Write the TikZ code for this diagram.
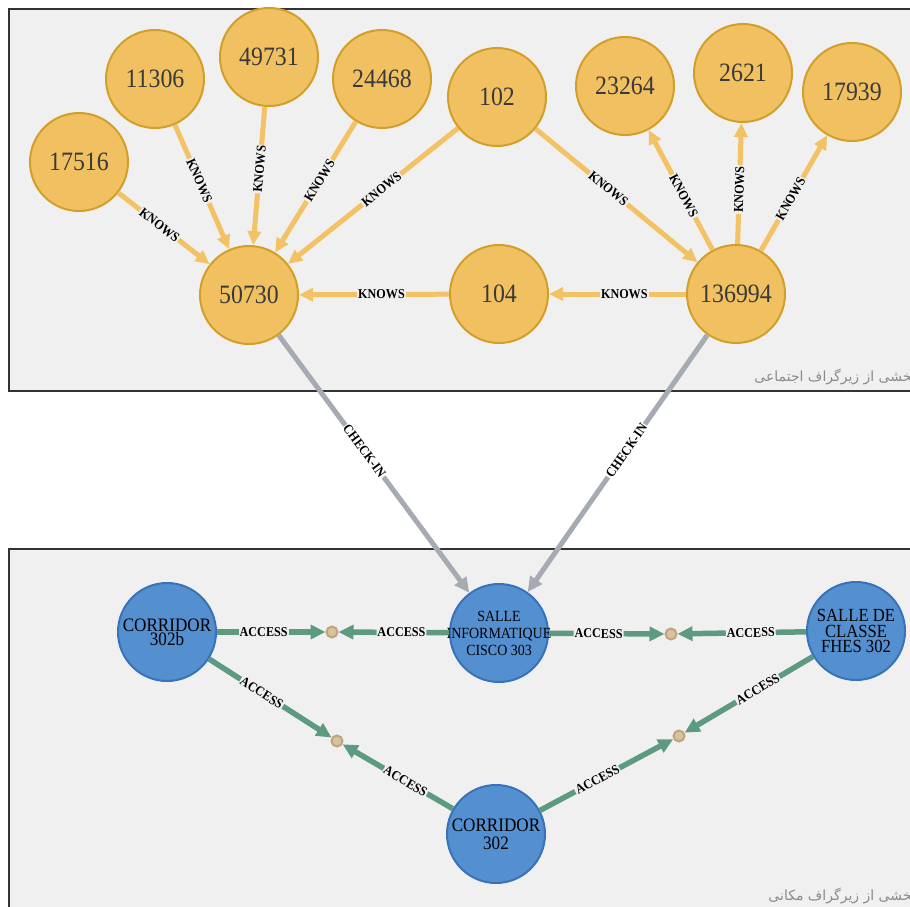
\documentclass[tikz,border=0pt]{standalone}
\usepackage{fontspec}
\usetikzlibrary{arrows.meta}
\TeXXeTstate=1
\newfontfamily\nodefont[FakeStretch=0.9]{Liberation Serif}
\newfontfamily\arabicfont[Script=Arabic]{DejaVu Sans}
\definecolor{bg}{HTML}{F0F0F0}
\definecolor{framec}{HTML}{333333}
\definecolor{pfill}{HTML}{F1C060}
\definecolor{pdraw}{HTML}{D2A02A}
\definecolor{ptext}{HTML}{3A3A3A}
\definecolor{kcol}{HTML}{F3C264}
\definecolor{lfill}{HTML}{548FD0}
\definecolor{ldraw}{HTML}{3A72B8}
\definecolor{acol}{HTML}{5E9A80}
\definecolor{ccol}{HTML}{A6AAB3}
\definecolor{hfill}{HTML}{D5C3A2}
\definecolor{hdraw}{HTML}{C2A47A}
\definecolor{capcol}{HTML}{8A8A8A}
\tikzset{
  frame/.style={draw=framec, line width=1.5pt, fill=bg},
  person/.style={circle, minimum size=98pt, inner sep=0pt, fill=pfill, draw=pdraw, line width=2pt,
    text=ptext, font=\nodefont\fontsize{26.5}{26.5}\selectfont},
  place/.style={circle, minimum size=98pt, inner sep=-20pt, fill=lfill, draw=ldraw, line width=2pt,
    text=black, align=center},
  hub/.style={circle, minimum size=11pt, inner sep=0pt, fill=hfill, draw=hdraw, line width=2pt},
  knows/.style={draw=kcol, line width=5pt, -{Triangle[length=14pt,width=13pt]}},
  access/.style={draw=acol, line width=5.5pt, -{Triangle[length=15pt,width=14pt]}},
  checkin/.style={draw=ccol, line width=5pt, -{Triangle[length=15pt,width=14pt]}},
  elabel/.style={font=\nodefont\bfseries\fontsize{13.5}{13.5}\selectfont, text=black,
    fill=bg, inner sep=1pt, sloped, pos=0.45},
  caption/.style={font=\arabicfont\fontsize{14}{14}\selectfont, text=capcol, anchor=base east, inner sep=0pt}
}
\begin{document}
\begin{tikzpicture}[x=1pt,y=-1pt]
\useasboundingbox (0,0) rectangle (910,907);
\clip (0,0) rectangle (910,907);
\fill[white] (0,0) rectangle (910,907);
% frames
\draw[frame] (9,9) rectangle (925,391);
\draw[frame] (9,549) rectangle (925,930);
\node[caption] (cap1) at (916,381) {\beginR بخشی از زیرگراف اجتماعی\endR};
\node[caption] (cap2) at (916,900) {\beginR بخشی از زیرگراف مکانی\endR};
% social nodes
\node[person] (n17516) at (79,162) {17516};
\node[person] (n11306) at (155,79) {11306};
\node[person] (n49731) at (269,57) {49731};
\node[person] (n24468) at (382,79) {24468};
\node[person] (n102) at (497,97) {102};
\node[person] (n23264) at (625,86) {23264};
\node[person] (n2621) at (743,73) {2621};
\node[person] (n17939) at (852,92) {17939};
\node[person] (n50730) at (249,295) {50730};
\node[person] (n104) at (499,294) {104};
\node[person] (n136994) at (736,294) {136994};
% spatial nodes
\node[place, font=\nodefont\fontsize{15.5}{17}\selectfont] (cisco) at (499,633) {SALLE\\INFORMATIQUE\\CISCO 303};
\node[place, font=\nodefont\fontsize{19}{14}\selectfont] (c302b) at (167,632) {CORRIDOR\\302b};
\node[place, font=\nodefont\fontsize{18.5}{15.5}\selectfont] (salle) at (856,631) {SALLE DE\\CLASSE\\FHES 302};
\node[place, font=\nodefont\fontsize{19}{18}\selectfont] (c302) at (496,834) {CORRIDOR\\302};
\node[hub] (h1) at (332,632) {};
\node[hub] (h2) at (671,634) {};
\node[hub] (h3) at (337,741) {};
\node[hub] (h4) at (679,736) {};
% KNOWS edges
\draw[knows] (n17516) -- node[elabel] {KNOWS} (n50730);
\draw[knows] (n11306) -- node[elabel] {KNOWS} (n50730);
\draw[knows] (n49731) -- node[elabel] {KNOWS} (n50730);
\draw[knows] (n24468) -- node[elabel] {KNOWS} (n50730);
\draw[knows] (n102) -- node[elabel] {KNOWS} (n50730);
\draw[knows] (n104) -- node[elabel] {KNOWS} (n50730);
\draw[knows] (n136994) -- node[elabel] {KNOWS} (n104);
\draw[knows] (n102) -- node[elabel] {KNOWS} (n136994);
\draw[knows] (n136994) -- node[elabel] {KNOWS} (n23264);
\draw[knows] (n136994) -- node[elabel] {KNOWS} (n2621);
\draw[knows] (n136994) -- node[elabel] {KNOWS} (n17939);
% CHECK-IN edges
\draw[checkin] (n50730) -- node[elabel, fill=white] {CHECK-IN} (cisco);
\draw[checkin] (n136994) -- node[elabel, fill=white] {CHECK-IN} (cisco);
% ACCESS edges
\draw[access] (c302b) -- node[elabel, pos=0.43] {ACCESS} (h1);
\draw[access] (cisco) -- node[elabel, pos=0.43] {ACCESS} (h1);
\draw[access] (cisco) -- node[elabel, pos=0.43] {ACCESS} (h2);
\draw[access] (salle) -- node[elabel, pos=0.43] {ACCESS} (h2);
\draw[access] (c302b) -- node[elabel, pos=0.43] {ACCESS} (h3);
\draw[access] (c302) -- node[elabel, pos=0.43] {ACCESS} (h3);
\draw[access] (c302) -- node[elabel, pos=0.43] {ACCESS} (h4);
\draw[access] (salle) -- node[elabel, pos=0.43] {ACCESS} (h4);
\end{tikzpicture}
\end{document}
